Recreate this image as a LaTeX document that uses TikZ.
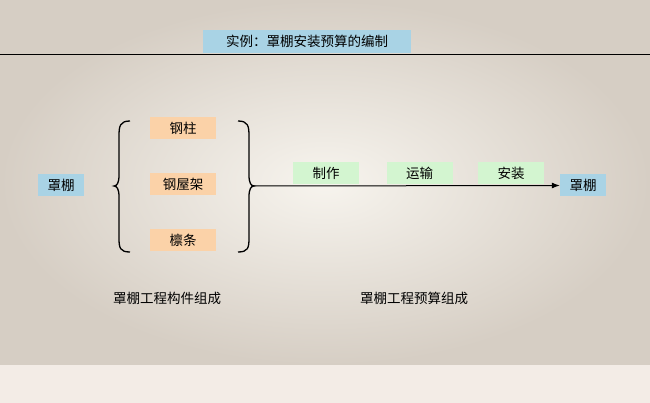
\documentclass[tikz,border=0pt]{standalone}
\usepackage{fontspec}
\setmainfont{Noto Sans CJK SC}
\usetikzlibrary{arrows.meta}
\definecolor{bblue}{HTML}{A9D3E5}
\definecolor{borange}{HTML}{FBD2A8}
\definecolor{bgreen}{HTML}{D3F5D0}
\definecolor{bgin}{HTML}{F7F4EE}
\definecolor{bgout}{HTML}{D6CEC4}
\definecolor{band}{HTML}{F3ECE6}
\begin{document}
\begin{tikzpicture}[x=1pt,y=-1pt,
 box/.style={minimum height=22pt,inner sep=0pt,font=\fontsize{13.5}{15}\selectfont},
 bl/.style={box,fill=bblue,minimum width=46pt},
 og/.style={box,fill=borange,minimum width=66pt},
 gr/.style={box,fill=bgreen,minimum width=66pt},
 lab/.style={font=\fontsize{13.5}{15}\selectfont}]
\useasboundingbox (0,0) rectangle (650,403);
\shade[inner color=bgin, outer color=bgout] (0,0) rectangle (650,365);
\fill[band] (0,365) rectangle (650,403);
\draw[line width=1pt] (0,55) -- (650,55);
\node[box,fill=bblue,minimum width=208pt,minimum height=23pt] (title) at (307,41.5) {实例：罩棚安装预算的编制};
\node[bl] (l) at (61,185) {罩棚};
\node[og] (a) at (183,128.5) {钢柱};
\node[og] (b) at (183,184.5) {钢屋架};
\node[og] (c) at (183,240.5) {檩条};
\draw[line width=1.3pt] (130,121) .. controls (120,121) and (119,126) .. (119,136) -- (119,175) .. controls (119,183) and (117,186) .. (114,186) .. controls (117,186) and (119,189) .. (119,197) -- (119,238) .. controls (119,248) and (120,252) .. (130,252);
\draw[line width=1.3pt] (238,121) .. controls (248,121) and (249,126) .. (249,136) -- (249,175) .. controls (249,183) and (251,186) .. (254,186) .. controls (251,186) and (249,189) .. (249,197) -- (249,238) .. controls (249,248) and (248,252) .. (238,252);
\node[gr] (m) at (326,173) {制作};
\node[gr] (t) at (419.5,173) {运输};
\node[gr] (i) at (511,173) {安装};
\node[bl] (r) at (583,185.5) {罩棚};
\coordinate (s) at (254,186);
\draw[line width=1pt,-{Latex[length=8pt,width=6pt]}] (s) -- (r.west);
\node[lab] (n1) at (167,298) {罩棚工程构件组成};
\node[lab] (n2) at (414,298) {罩棚工程预算组成};
\end{tikzpicture}
\end{document}
